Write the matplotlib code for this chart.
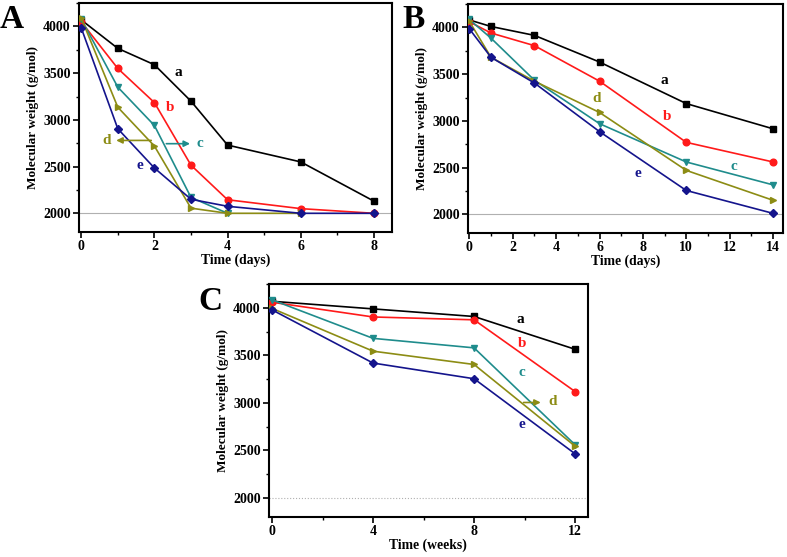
import matplotlib
matplotlib.use('Agg')
import matplotlib.pyplot as plt
from matplotlib.ticker import MultipleLocator

plt.rcParams['font.family'] = ['Liberation Serif', 'DejaVu Serif']
plt.rcParams['font.weight'] = 'bold'
plt.rcParams['axes.labelweight'] = 'bold'

# --- data (g/mol) ---
series_names = ['a', 'b', 'c', 'd', 'e']
colors = ['#000000', '#ff1a1a', '#1f8c8c', '#8c8c14', '#14148c']
markers = ['s', 'o', 'v', '>', 'D']
marker_sizes = [4.2, 4.8, 5.0, 5.0, 3.8]

days_a = [0, 1, 2, 3, 4, 6, 8]
mw_a = {
    'a': [4070, 3765, 3590, 3200, 2730, 2550, 2130],
    'b': [4050, 3550, 3185, 2515, 2145, 2050, 2000],
    'c': [4080, 3350, 2940, 2170, 2000],
    'd': [4090, 3135, 2720, 2055, 2000, 2000],
    'e': [3985, 2905, 2485, 2150, 2075, 2000, 2000],
}

days_b = [0, 1, 3, 6, 10, 14]
mw_b = {
    'a': [4080, 4010, 3915, 3630, 3185, 2915],
    'b': [4060, 3940, 3805, 3425, 2770, 2560],
    'c': [4085, 3885, 3435, 2970, 2560, 2315],
    'd': [4065, 3680, 3425, 3090, 2470, 2150],
    'e': [3985, 3680, 3405, 2885, 2255, 2010],
}

weeks_c = [0, 4, 8, 12]
mw_c = {
    'a': [4070, 3990, 3910, 3565],
    'b': [4060, 3905, 3875, 3120],
    'c': [4085, 3680, 3580, 2560],
    'd': [3995, 3545, 3405, 2545],
    'e': [3980, 3420, 3255, 2465],
}

# curve labels: (x, y) in data units
labels_a = {'a': (2.65, 3505), 'b': (2.43, 3130), 'c': (3.23, 2745), 'd': (0.70, 2780), 'e': (1.61, 2515)}
labels_b = {'a': (9.0, 3430), 'b': (9.1, 3045), 'c': (12.2, 2515), 'd': (5.85, 3240), 'e': (7.75, 2440)}
labels_c = {'a': (9.85, 3875), 'b': (9.9, 3625), 'c': (9.9, 3325), 'd': (11.1, 3015), 'e': (9.9, 2770)}


def draw_panel(ax, x, data, labels, xlim, xmajor, xlabel, ref_style):
    ax.axhline(2000, color='#b0b0b0', lw=0.8, ls=ref_style, zorder=1)
    for name, col, mk, ms in zip(series_names, colors, markers, marker_sizes):
        y = data[name]
        ax.plot(x[:len(y)], y, color=col, marker=mk, ms=ms, lw=1.2, zorder=3)
        lx, ly = labels[name]
        ax.text(lx, ly, name, color=col, fontsize=11, fontweight='bold',
                ha='center', va='center')
    ax.set_xlim(*xlim)
    ax.set_ylim(1800, 4250)
    ax.xaxis.set_major_locator(MultipleLocator(xmajor))
    ax.xaxis.set_minor_locator(MultipleLocator(xmajor / 2))
    ax.yaxis.set_major_locator(MultipleLocator(500))
    ax.yaxis.set_minor_locator(MultipleLocator(250))
    ax.tick_params(which='both', direction='out', top=False, right=False,
                   labelsize=10, pad=2)
    ax.tick_params(which='major', length=4, width=1.2)
    ax.tick_params(which='minor', length=2.5, width=1.0)
    for lab in ax.get_xticklabels() + ax.get_yticklabels():
        lab.set_fontweight('bold')
    for sp in ax.spines.values():
        sp.set_linewidth(1.5)
    ax.set_xlabel(xlabel, fontsize=9.8, labelpad=0)
    ax.set_ylabel('Molecular weight (g/mol)', fontsize=9.5, labelpad=3)


fig = plt.figure(figsize=(7.87, 5.57), dpi=100)
axA = fig.add_axes([0.1004, 0.5835, 0.398, 0.411])
axB = fig.add_axes([0.5947, 0.5817, 0.400, 0.411])
axC = fig.add_axes([0.3418, 0.0718, 0.405, 0.418])

draw_panel(axA, days_a, mw_a, labels_a, (-0.06, 8.5), 2, 'Time (days)', '-')
draw_panel(axB, days_b, mw_b, labels_b, (-0.06, 14.45), 2, 'Time (days)', '-')
draw_panel(axC, weeks_c, mw_c, labels_c, (-0.12, 12.5), 4, 'Time (weeks)', ':')

# arrows pointing labels to their curves
arrow_kw = dict(arrowstyle='-|>', lw=1.2, mutation_scale=9)
axA.annotate('', xy=(3.05, 2745), xytext=(2.25, 2745),
             arrowprops=dict(color=colors[2], **arrow_kw))
axA.annotate('', xy=(0.88, 2780), xytext=(1.99, 2780),
             arrowprops=dict(color=colors[3], **arrow_kw))
axC.annotate('', xy=(10.75, 3005), xytext=(9.85, 3005),
             arrowprops=dict(color=colors[3], **arrow_kw))

for letter, (fx, fy) in zip('ABC', [(0.0, 0.993), (0.511, 0.993), (0.252, 0.487)]):
    fig.text(fx, fy, letter, fontsize=24, fontweight='bold', ha='left', va='top')

fig.savefig('out.png', dpi=100)
